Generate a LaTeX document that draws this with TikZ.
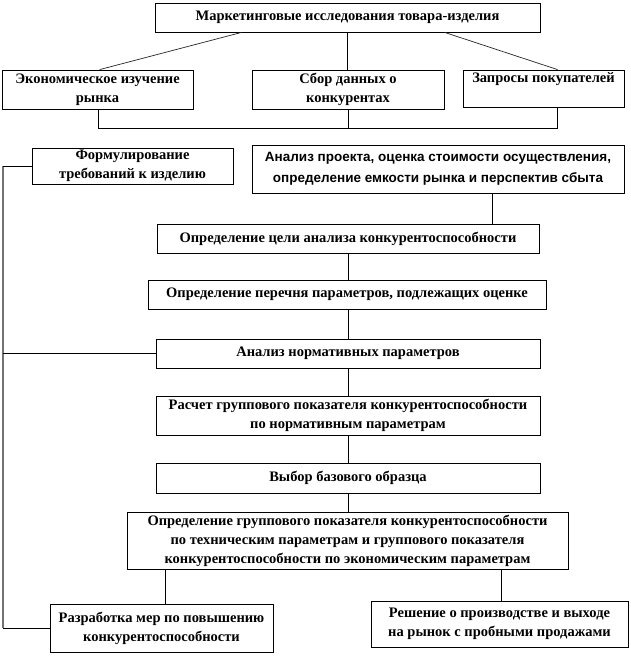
\documentclass[tikz,border=0pt]{standalone}
\usepackage{fontspec}
\setmainfont{Liberation Serif}
\newfontfamily\sansf{Liberation Sans}
\usetikzlibrary{calc}
\begin{document}
\begin{tikzpicture}[x=1pt,y=-1pt,
  box/.style={draw=black, line width=0.8pt, inner sep=0pt, align=center,
    font=\fontsize{14.5}{19}\selectfont\bfseries},
  sbox/.style={box, font=\sansf\fontsize{13.5}{21}\selectfont\bfseries},
  conn/.style={draw=black, line width=0.8pt},
  diag/.style={draw=black!85, line width=0.7pt},
  lbus/.style={draw=black!55, line width=1.4pt}]
\useasboundingbox (0,0) rectangle (630,656);
\fill[white] (0,0) rectangle (630,656);

\node[box, minimum width=385pt, minimum height=29pt] (top) at (347.5,17.5) {Маркетинговые исследования товара-изделия};
\node[box, minimum width=191pt, minimum height=39pt] (econ) at (97.5,89.5) {Экономическое изучение\\рынка};
\node[box, minimum width=192pt, minimum height=39pt] (sbor) at (348,89.5) {Сбор данных о\\конкурентах};
\node[box, minimum width=161pt, minimum height=37pt] (zapr) at (543.5,88.5) {Запросы покупателей\\\phantom{р}};
\node[box, minimum width=201pt, minimum height=36pt] (form) at (132.5,166) {Формулирование\\требований к изделию};
\node[sbox, minimum width=372pt, minimum height=48pt] (proj) at (438,169) {Анализ проекта, оценка стоимости осуществления,\\определение емкости рынка и перспектив сбыта};
\node[box, minimum width=382pt, minimum height=29pt] (cel) at (348,238.5) {Определение цели анализа конкурентоспособности};
\node[box, minimum width=398pt, minimum height=29pt] (per) at (347,294.5) {Определение перечня параметров, подлежащих оценке};
\node[box, minimum width=384pt, minimum height=29pt] (norm) at (348,353.5) {Анализ нормативных параметров};
\node[box, minimum width=384pt, minimum height=39pt] (rasch) at (348,415.5) {Расчет группового показателя конкурентоспособности\\по нормативным параметрам};
\node[box, minimum width=384pt, minimum height=30pt] (vyb) at (348,478) {Выбор базового образца};
\node[box, minimum width=441pt, minimum height=57pt] (grp) at (347.5,540.5) {Определение группового показателя конкурентоспособности\\по техническим параметрам и группового показателя\\конкурентоспособности по экономическим параметрам};
\node[box, minimum width=223pt, minimum height=48pt] (razr) at (161.5,628) {Разработка мер по повышению\\конкурентоспособности};
\node[box, minimum width=257pt, minimum height=46pt] (resh) at (499.5,624) {Решение о производстве и выходе\\на рынок с пробными продажами};

\coordinate (L) at (3,0);

% top level
\draw[diag] ([xshift=87pt]top.south west) -- ([xshift=98pt]econ.north west);
\draw[conn] (top.south) -- (top.south |- sbor.north);
\draw[diag] ([xshift=290pt]top.south west) -- ([xshift=95pt]zapr.north west);
\draw[conn] ([xshift=97pt]econ.south west) -- ++(0,19) -| ([xshift=95pt]zapr.south west);
\draw[conn] (sbor.south) -- ++(0,19);

% middle column
\draw[conn] ([xshift=241pt]proj.south west) coordinate (p1) -- (p1 |- cel.north);
\draw[conn] (cel.south) -- (cel.south |- per.north);
\draw[conn] (per.south -| cel.south) -- (cel.south |- norm.north);
\draw[conn] (norm.south) -- (rasch.north);
\draw[conn] (rasch.south) -- (vyb.north);
\draw[conn] (vyb.south) -- (vyb.south |- grp.north);
\draw[conn] ([xshift=39pt]grp.south west) coordinate (g1) -- (g1 |- razr.north);
\draw[conn] ([xshift=375pt]grp.south west) coordinate (g2) -- (g2 |- resh.north);

% left bus
\draw[lbus] (form.west -| L) -- (razr.west -| L);
\draw[conn] (form.west) -- (form.west -| L);
\draw[conn] (norm.west) -- (norm.west -| L);
\draw[conn] (razr.west) -- (razr.west -| L);
\end{tikzpicture}
\end{document}
